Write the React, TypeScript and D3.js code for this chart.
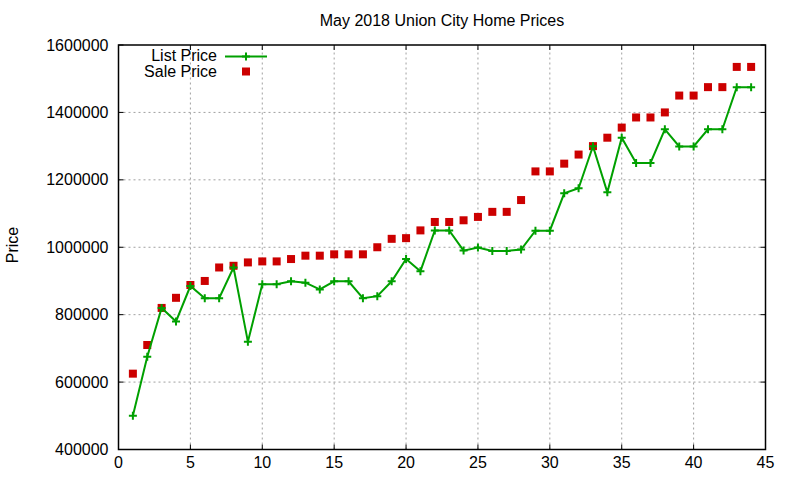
import React from 'react';
import * as d3 from 'd3';

// House index (x) for each listing
const houseIndex = [
  1, 2, 3, 4, 5, 6, 7, 8, 9, 10, 11, 12, 13, 14, 15, 16, 17, 18, 19, 20, 21, 22,
  23, 24, 25, 26, 27, 28, 29, 30, 31, 32, 33, 34, 35, 36, 37, 38, 39, 40, 41, 42, 43, 44,
];

const listPrices = [
  500000, 675000, 820000, 780000, 885000, 849000, 849000, 940000, 720000, 890000, 890000,
  899000, 895000, 875000, 899000, 899000, 849000, 855000, 899000, 965000, 929000, 1050000,
  1050000, 990000, 999000, 989000, 989000, 993000, 1049000, 1049000, 1160000, 1175000,
  1300000, 1163000, 1325000, 1250000, 1250000, 1350000, 1299000, 1299000, 1350000, 1350000,
  1475000, 1475000,
];

const salePrices = [
  625000, 710000, 820000, 850000, 888000, 900000, 940000, 945000, 955000, 958000, 958000,
  965000, 975000, 975000, 979000, 979000, 979000, 1000000, 1025000, 1027000, 1050000, 1075000,
  1075000, 1080000, 1090000, 1105000, 1105000, 1140000, 1225000, 1225000, 1248000, 1275000,
  1300000, 1325000, 1355000, 1385000, 1385000, 1400000, 1450000, 1450000, 1475000, 1475000,
  1535000, 1535000,
];

const xTicks = [0, 5, 10, 15, 20, 25, 30, 35, 40, 45];
const yTicks = [400000, 600000, 800000, 1000000, 1200000, 1400000, 1600000];

const WIDTH = 800;
const HEIGHT = 480;
const GREEN = '#00a000';
const RED = '#cc0000';
const FONT = '"Liberation Sans", Arial, sans-serif';

const App: React.FC = () => {
  const x = d3.scaleLinear().domain([0, 45]).range([118.5, 765.5]);
  const y = d3.scaleLinear().domain([400000, 1600000]).range([449.5, 45]);

  const [x0, x1] = x.range();
  const [y0, y1] = y.range();

  const line = d3
    .line<number>()
    .x((_, i) => x(houseIndex[i]))
    .y(d => y(d));

  const plus = (cx: number, cy: number, k: string) => (
    <path
      key={k}
      d={`M${cx - 4},${cy}H${cx + 4}M${cx},${cy - 4}V${cy + 4}`}
      stroke={GREEN}
      strokeWidth={2}
      fill="none"
    />
  );

  return (
    <svg
      width={WIDTH}
      height={HEIGHT}
      style={{ position: 'absolute', left: 0, top: 0, background: '#fff' }}
      fontFamily={FONT}
    >
      {/* grid */}
      <g stroke="#a0a0a0" strokeWidth={1} strokeDasharray="2,3">
        {xTicks.slice(1, -1).map(t => (
          <line key={`gx${t}`} x1={x(t)} x2={x(t)} y1={y0} y2={y1} />
        ))}
        {yTicks.slice(1, -1).map(t => (
          <line key={`gy${t}`} x1={x0} x2={x1} y1={y(t)} y2={y(t)} />
        ))}
      </g>

      {/* ticks, mirrored inward */}
      <g stroke="#000" strokeWidth={1}>
        {xTicks.map(t => (
          <g key={`tx${t}`}>
            <line x1={x(t)} x2={x(t)} y1={y0} y2={y0 - 5} />
            <line x1={x(t)} x2={x(t)} y1={y1} y2={y1 + 5} />
          </g>
        ))}
        {yTicks.map(t => (
          <g key={`ty${t}`}>
            <line x1={x0} x2={x0 + 5} y1={y(t)} y2={y(t)} />
            <line x1={x1} x2={x1 - 5} y1={y(t)} y2={y(t)} />
          </g>
        ))}
      </g>

      {/* tick labels */}
      <g fontSize={16} fill="#000">
        {xTicks.map(t => (
          <text key={`lx${t}`} x={x(t)} y={y0 + 13} textAnchor="middle" dominantBaseline="central">
            {t}
          </text>
        ))}
        {yTicks.map(t => (
          <text key={`ly${t}`} x={x0 - 10} y={y(t)} textAnchor="end" dominantBaseline="central">
            {t}
          </text>
        ))}
      </g>

      {/* sale price squares */}
      {salePrices.map((v, i) => (
        <rect
          key={`s${i}`}
          x={x(houseIndex[i]) - 4}
          y={y(v) - 4}
          width={8}
          height={8}
          fill={RED}
        />
      ))}

      {/* list price line */}
      <path d={line(listPrices) || ''} fill="none" stroke={GREEN} strokeWidth={2} />
      {listPrices.map((v, i) => plus(x(houseIndex[i]), y(v), `p${i}`))}

      {/* frame */}
      <rect
        x={x0}
        y={y1}
        width={x1 - x0}
        height={y0 - y1}
        fill="none"
        stroke="#000"
        strokeWidth={1.5}
      />

      {/* title and axis label */}
      <text x={442} y={20} textAnchor="middle" dominantBaseline="central" fontSize={16}>
        May 2018 Union City Home Prices
      </text>
      <text
        transform="translate(12,245) rotate(-90)"
        textAnchor="middle"
        dominantBaseline="central"
        fontSize={16}
      >
        Price
      </text>

      {/* legend */}
      <g fontSize={16}>
        <text x={217} y={55} textAnchor="end" dominantBaseline="central">
          List Price
        </text>
        <line x1={225} x2={267} y1={56.5} y2={56.5} stroke={GREEN} strokeWidth={2} />
        {plus(246, 56.5, 'legend-plus')}
        <text x={217} y={71} textAnchor="end" dominantBaseline="central">
          Sale Price
        </text>
        <rect x={242} y={67.5} width={8} height={8} fill={RED} />
      </g>
    </svg>
  );
};

export default App;
